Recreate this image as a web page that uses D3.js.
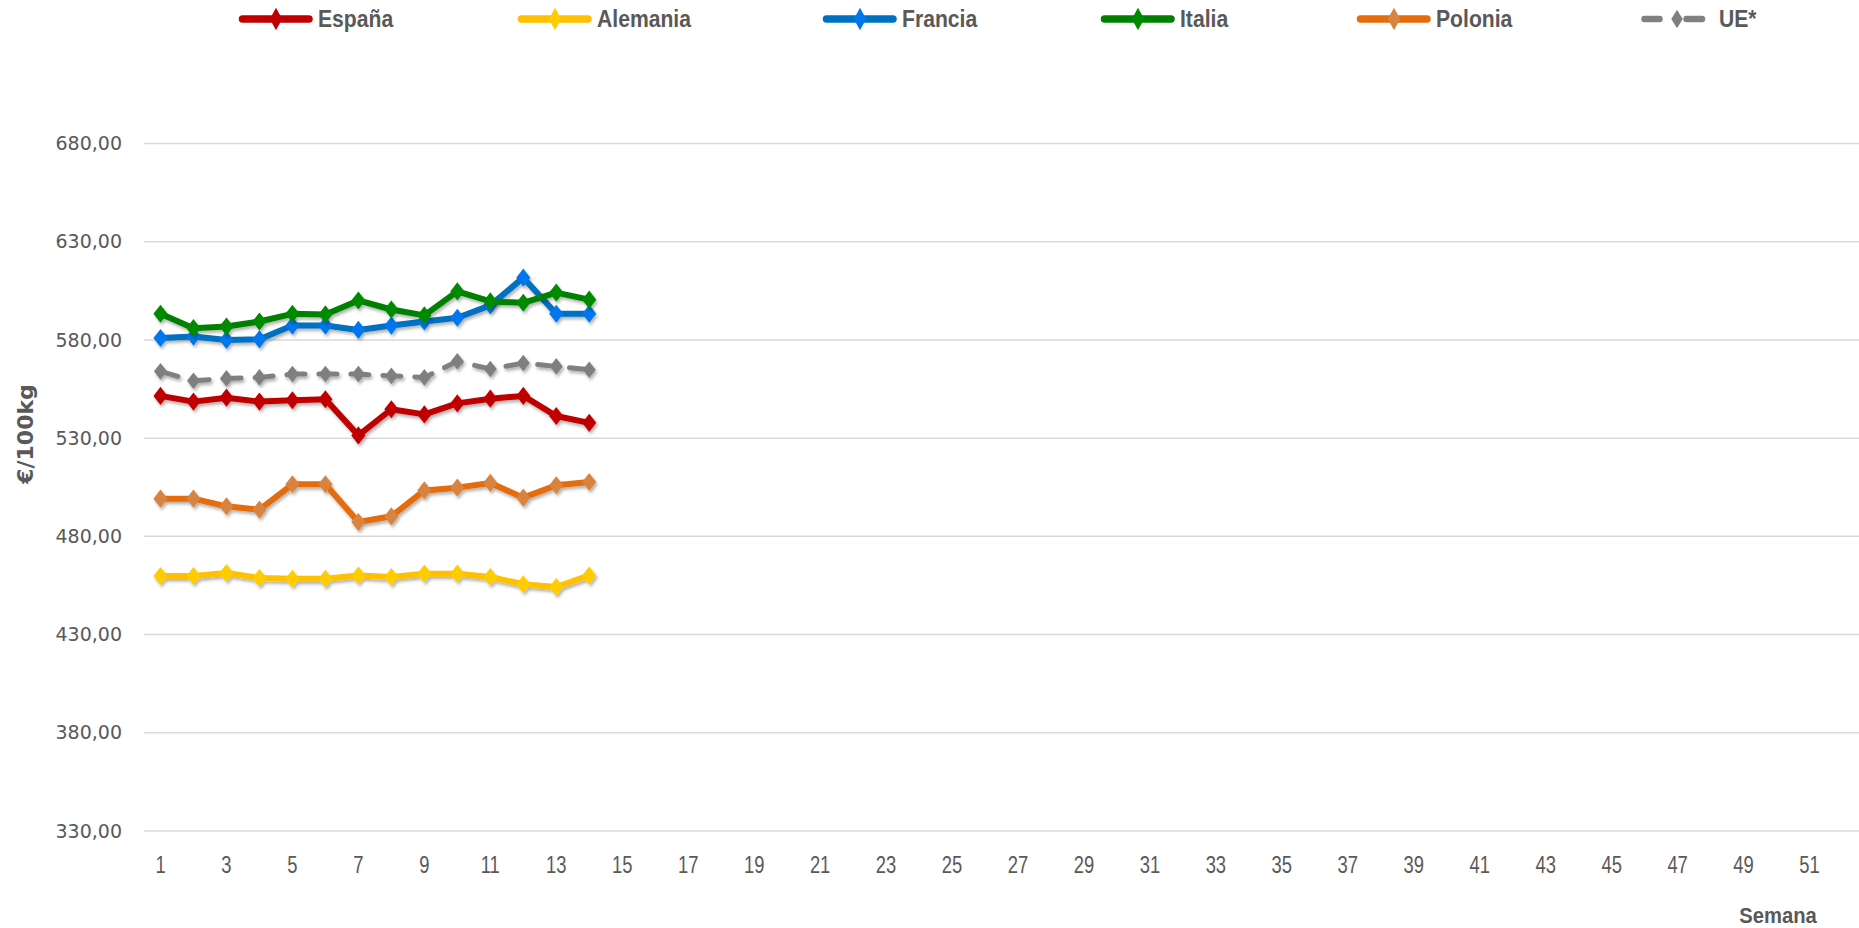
<!DOCTYPE html>
<html><head><meta charset="utf-8">
<script src="https://cdn.jsdelivr.net/npm/d3@7"></script>
<style>html,body{margin:0;padding:0;background:#fff;}svg{display:block;}</style>
</head><body>
<svg id="chart" width="1859" height="928"></svg>
<script>
// ---- data ----
const weeks = d3.range(1, 53);            // category axis: Semana 1..52
const dataWeeks = d3.range(1, 15);        // weeks with data
const yTicks = [330, 380, 430, 480, 530, 580, 630, 680];
const seriesNames = ["España", "Alemania", "Francia", "Italia", "Polonia", "UE*"];
const espana   = [551.5, 548.6, 550.6, 548.6, 549.3, 549.8, 531.4, 544.7, 542.1, 547.7, 550.1, 551.5, 541.3, 537.8];
const alemania = [459.8, 459.8, 461.3, 458.8, 458.4, 458.4, 460.1, 459.3, 461.0, 461.0, 459.3, 455.6, 454.2, 460.1];
const francia  = [581.0, 581.7, 580.0, 580.3, 587.3, 587.3, 585.1, 587.3, 589.4, 591.3, 597.6, 611.7, 593.3, 593.3];
const italia   = [593.3, 586.0, 586.8, 589.4, 593.3, 593.0, 600.1, 595.5, 592.5, 604.7, 599.6, 598.9, 604.1, 600.5];
const polonia  = [499.2, 499.2, 495.3, 493.6, 506.5, 506.5, 487.3, 490.2, 503.4, 504.8, 507.2, 499.7, 506.0, 507.7];
const ue       = [564.0, 559.2, 560.4, 560.9, 562.6, 562.6, 562.6, 561.7, 560.9, 569.1, 565.2, 568.2, 566.5, 564.8];

// ---- styles ----
const styles = [
  {line: "#C00000", marker: "#C00000", dash: null},
  {line: "#FFC000", marker: "#FFCC00", dash: null},
  {line: "#0070C0", marker: "#0077EE", dash: null},
  {line: "#008000", marker: "#008A00", dash: null},
  {line: "#E46C0A", marker: "#D9833F", dash: null},
  {line: "#808080", marker: "#7F7F7F", dash: "18,14"}
];
const legendX = [239, 518, 823, 1101, 1357, 1641];
const allValues = [espana, alemania, francia, italia, polonia, ue];

const svg = d3.select("#chart");
const margin = {left: 144, right: 0, top: 143.5, bottom: 97};
const W = 1859, H = 928;
const NARROW = "Liberation Sans, Arial, sans-serif";

const x = d3.scaleBand().domain(weeks).range([margin.left, W - margin.right]).paddingInner(0).paddingOuter(0);
const y = d3.scaleLinear().domain([330, 680]).range([H - margin.bottom, margin.top]);

const defs = svg.append("defs");
const f = defs.append("filter").attr("id", "sh").attr("x", "-10%").attr("y", "-30%").attr("width", "130%").attr("height", "180%");
f.append("feDropShadow").attr("dx", 1.5).attr("dy", 2.5).attr("stdDeviation", 1.5).attr("flood-color", "#000").attr("flood-opacity", 0.3);

// gridlines
svg.append("g").selectAll("line").data(yTicks).join("line")
  .attr("x1", margin.left).attr("x2", W)
  .attr("y1", d => y(d)).attr("y2", d => y(d))
  .attr("stroke", "#D9D9D9").attr("stroke-width", 1.5);

// y axis labels
const yAxis = d3.axisLeft(y).tickValues(yTicks).tickSize(0).tickPadding(0)
  .tickFormat(d => d3.format(".2f")(d).replace(".", ","));
const gy = svg.append("g").attr("transform", `translate(122,0)`).call(yAxis);
gy.select(".domain").remove();
gy.selectAll("text").attr("font-family", "DejaVu Sans, Verdana, sans-serif").attr("font-size", 19).attr("fill", "#595959");

// x axis labels
const xAxis = d3.axisBottom(x).tickValues(weeks.filter(w => w % 2 === 1)).tickSize(0).tickPadding(0);
const gx = svg.append("g").attr("transform", `translate(0,${y(330) + 26})`).call(xAxis);
gx.select(".domain").remove();
gx.selectAll("text").attr("font-family", NARROW).attr("font-size", 23).attr("fill", "#595959")
  .attr("transform", "scale(0.8,1)");

// axis titles
svg.append("text").attr("transform", "translate(33,434) rotate(-90)").attr("text-anchor", "middle")
  .attr("font-family", "DejaVu Sans, Verdana, sans-serif").attr("font-weight", "bold")
  .attr("font-size", 22).attr("fill", "#595959").text("€/100kg");
svg.append("text").attr("transform", "translate(1778,923) scale(0.92,1)").attr("text-anchor", "middle")
  .attr("font-family", NARROW).attr("font-weight", "bold")
  .attr("font-size", 22).attr("fill", "#595959").text("Semana");

const cx = w => x(w) + x.bandwidth() / 2;
const line = d3.line().x((d, i) => cx(dataWeeks[i])).y(d => y(d));
const diamond = d3.symbol().type(d3.symbolDiamond);

allValues.forEach((vals, si) => {
  const st = styles[si];
  const g = svg.append("g").attr("filter", "url(#sh)");
  g.append("path").datum(vals).attr("d", line).attr("fill", "none")
    .attr("stroke", st.line).attr("stroke-width", si === 5 ? 5 : 6)
    .attr("stroke-linejoin", "round").attr("stroke-linecap", "round")
    .attr("stroke-dasharray", st.dash);
  g.selectAll("path.m").data(vals).join("path").attr("class", "m")
    .attr("d", diamond.size(si === 5 ? 80 : 95)())
    .attr("transform", (d, i) => `translate(${cx(dataWeeks[i])},${y(d)}) scale(1.35,1)`)
    .attr("fill", st.marker);
});

// legend
const leg = svg.append("g");
seriesNames.forEach((name, i) => {
  const st = styles[i];
  const lx = legendX[i], ly = 19;
  const g = leg.append("g");
  if (st.dash) {
    g.append("line").attr("x1", lx + 3.5).attr("x2", lx + 18.5).attr("y1", ly).attr("y2", ly)
      .attr("stroke", st.line).attr("stroke-width", 6.5).attr("stroke-linecap", "round");
    g.append("line").attr("x1", lx + 45.5).attr("x2", lx + 61).attr("y1", ly).attr("y2", ly)
      .attr("stroke", st.line).attr("stroke-width", 6.5).attr("stroke-linecap", "round");
    g.append("path").attr("d", d3.symbol().type(d3.symbolDiamond).size(80)())
      .attr("transform", `translate(${lx + 36},${ly}) scale(1.2,1.1)`).attr("fill", st.marker);
  } else {
    g.append("line").attr("x1", lx + 3.5).attr("x2", lx + 70).attr("y1", ly).attr("y2", ly)
      .attr("stroke", st.line).attr("stroke-width", 7.5).attr("stroke-linecap", "round");
    g.append("path").attr("d", d3.symbol().type(d3.symbolDiamond).size(100)())
      .attr("transform", `translate(${lx + 37},${ly}) scale(1.15,1.2)`).attr("fill", st.marker);
  }
  g.append("text").attr("transform", `translate(${lx + (st.dash ? 78 : 79)},${ly}) scale(0.92,1)`).attr("dy", "0.36em")
    .attr("font-family", NARROW).attr("font-weight", "bold")
    .attr("font-size", 23).attr("fill", "#595959").text(name);
});
</script>
</body></html>
